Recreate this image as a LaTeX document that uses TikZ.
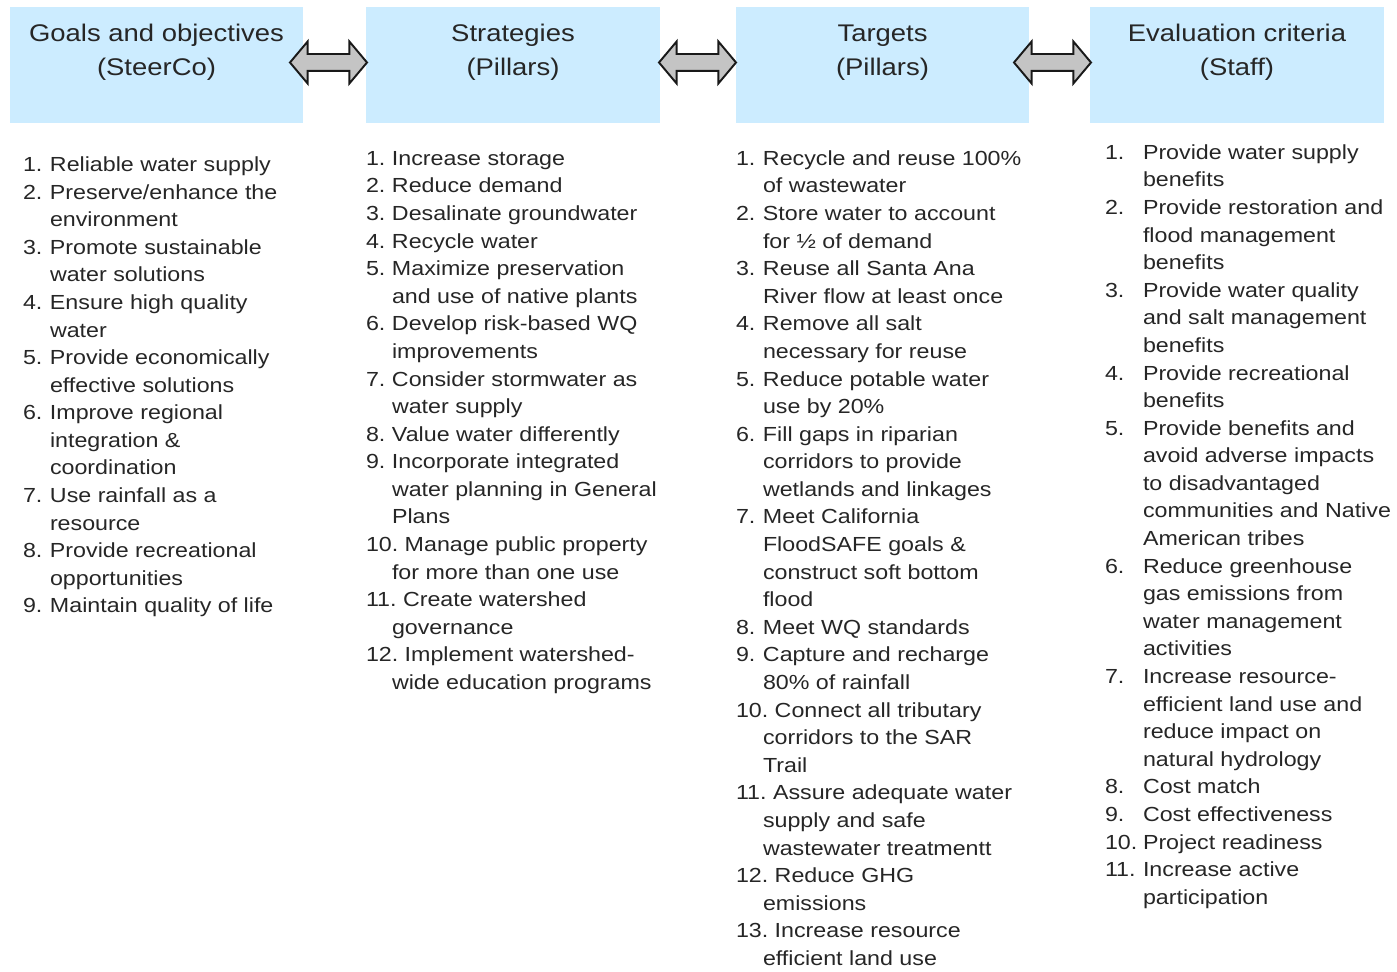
\documentclass[tikz,border=0pt]{standalone}
\usepackage{fontspec}
\setmainfont{Liberation Sans}[FakeStretch=1.14]
\usetikzlibrary{positioning,shapes.arrows,calc}

\definecolor{hdblue}{HTML}{CCECFF}
\definecolor{arrgray}{HTML}{C4C4C4}
\newcommand{\bodyfont}{\fontsize{11.6}{15.7}\selectfont}
\newcommand{\headfont}{\fontsize{13.7}{18.8}\selectfont}
\newlength{\numw}
\newcommand{\nm}[1]{\makebox[\numw][l]{#1}}

\begin{document}
\begin{tikzpicture}[
  every node/.style={inner sep=0pt, outer sep=0pt, text=black!85},
  hdbox/.style={fill=hdblue, minimum width=5.87cm, minimum height=2.32cm},
  hdtext/.style={anchor=base, font=\headfont},
  listcol/.style={anchor=base west, font=\bodyfont},
  dblarr/.style={double arrow, draw=black!90, fill=arrgray, line width=1.1pt,
    inner xsep=0pt, inner ysep=0.15cm,
    minimum height=1.54cm, minimum width=0.8cm,
    double arrow head extend=0.25cm, double arrow tip angle=100}
]
  \useasboundingbox (0,0) rectangle (27.94,-19.44);

  % header boxes
  \node[hdbox] (goals) at (3.13,-1.3) {};
  \node[hdbox, right=1.26cm of goals] (strat) {};
  \node[hdbox, right=1.52cm of strat] (targ) {};
  \node[hdbox, right=1.22cm of targ] (evalc) {};

  \node[hdtext] (goalst) at ($(goals.north)+(0,-0.70)$)
    {\begin{tabular}[t]{@{}c@{}}Goals and objectives\\(SteerCo)\end{tabular}};
  \node[hdtext] (stratt) at ($(strat.north)+(0,-0.70)$)
    {\begin{tabular}[t]{@{}c@{}}Strategies\\(Pillars)\end{tabular}};
  \node[hdtext] (targt) at ($(targ.north)+(0,-0.70)$)
    {\begin{tabular}[t]{@{}c@{}}Targets\\(Pillars)\end{tabular}};
  \node[hdtext] (evalct) at ($(evalc.north)+(0,-0.70)$)
    {\begin{tabular}[t]{@{}c@{}}Evaluation criteria\\(Staff)\end{tabular}};

  % double arrows between the headers
  \node[dblarr] (ar1) at (6.57,-1.25) {};
  \node[dblarr] (ar2) at (13.95,-1.25) {};
  \node[dblarr] (ar3) at (21.05,-1.25) {};

  % lists
  \node[listcol] (goalslist) at (0.46,-3.43) {\setlength{\numw}{0.54cm}%
  \begin{tabular}[t]{@{}l@{}}
    \nm{1.}Reliable water supply\\
    \nm{2.}Preserve/enhance the\\
    \nm{}environment\\
    \nm{3.}Promote sustainable\\
    \nm{}water solutions\\
    \nm{4.}Ensure high quality\\
    \nm{}water\\
    \nm{5.}Provide economically\\
    \nm{}effective solutions\\
    \nm{6.}Improve regional\\
    \nm{}integration \&\\
    \nm{}coordination\\
    \nm{7.}Use rainfall as a\\
    \nm{}resource\\
    \nm{8.}Provide recreational\\
    \nm{}opportunities\\
    \nm{9.}Maintain quality of life
  \end{tabular}};

  \node[listcol] (stratlist) at (7.32,-3.306) {\setlength{\numw}{0.52cm}%
  \begin{tabular}[t]{@{}l@{}}
    \nm{1.}Increase storage\\
    \nm{2.}Reduce demand\\
    \nm{3.}Desalinate groundwater\\
    \nm{4.}Recycle water\\
    \nm{5.}Maximize preservation\\
    \nm{}and use of native plants\\
    \nm{6.}Develop risk-based WQ\\
    \nm{}improvements\\
    \nm{7.}Consider stormwater as\\
    \nm{}water supply\\
    \nm{8.}Value water differently\\
    \nm{9.}Incorporate integrated\\
    \nm{}water planning in General\\
    \nm{}Plans\\
    10.\ Manage public property\\
    \nm{}for more than one use\\
    11.\ Create watershed\\
    \nm{}governance\\
    12.\ Implement watershed-\\
    \nm{}wide education programs
  \end{tabular}};

  \node[listcol] (targlist) at (14.72,-3.306) {\setlength{\numw}{0.54cm}%
  \begin{tabular}[t]{@{}l@{}}
    \nm{1.}Recycle and reuse 100\%\\
    \nm{}of wastewater\\
    \nm{2.}Store water to account\\
    \nm{}for ½ of demand\\
    \nm{3.}Reuse all Santa Ana\\
    \nm{}River flow at least once\\
    \nm{4.}Remove all salt\\
    \nm{}necessary for reuse\\
    \nm{5.}Reduce potable water\\
    \nm{}use by 20\%\\
    \nm{6.}Fill gaps in riparian\\
    \nm{}corridors to provide\\
    \nm{}wetlands and linkages\\
    \nm{7.}Meet California\\
    \nm{}FloodSAFE goals \&\\
    \nm{}construct soft bottom\\
    \nm{}flood\\
    \nm{8.}Meet WQ standards\\
    \nm{9.}Capture and recharge\\
    \nm{}80\% of rainfall\\
    10.\ Connect all tributary\\
    \nm{}corridors to the SAR\\
    \nm{}Trail\\
    11.\ Assure adequate water\\
    \nm{}supply and safe\\
    \nm{}wastewater treatmentt\\
    12.\ Reduce GHG\\
    \nm{}emissions\\
    13.\ Increase resource\\
    \nm{}efficient land use
  \end{tabular}};

  \node[listcol] (evalclist) at (22.10,-3.186) {\setlength{\numw}{0.76cm}%
  \begin{tabular}[t]{@{}l@{}}
    \nm{1.}Provide water supply\\
    \nm{}benefits\\
    \nm{2.}Provide restoration and\\
    \nm{}flood management\\
    \nm{}benefits\\
    \nm{3.}Provide water quality\\
    \nm{}and salt management\\
    \nm{}benefits\\
    \nm{4.}Provide recreational\\
    \nm{}benefits\\
    \nm{5.}Provide benefits and\\
    \nm{}avoid adverse impacts\\
    \nm{}to disadvantaged\\
    \nm{}communities and Native\\
    \nm{}American tribes\\
    \nm{6.}Reduce greenhouse\\
    \nm{}gas emissions from\\
    \nm{}water management\\
    \nm{}activities\\
    \nm{7.}Increase resource-\\
    \nm{}efficient land use and\\
    \nm{}reduce impact on\\
    \nm{}natural hydrology\\
    \nm{8.}Cost match\\
    \nm{9.}Cost effectiveness\\
    \nm{10.}Project readiness\\
    \nm{11.}Increase active\\
    \nm{}participation
  \end{tabular}};
\end{tikzpicture}
\end{document}
